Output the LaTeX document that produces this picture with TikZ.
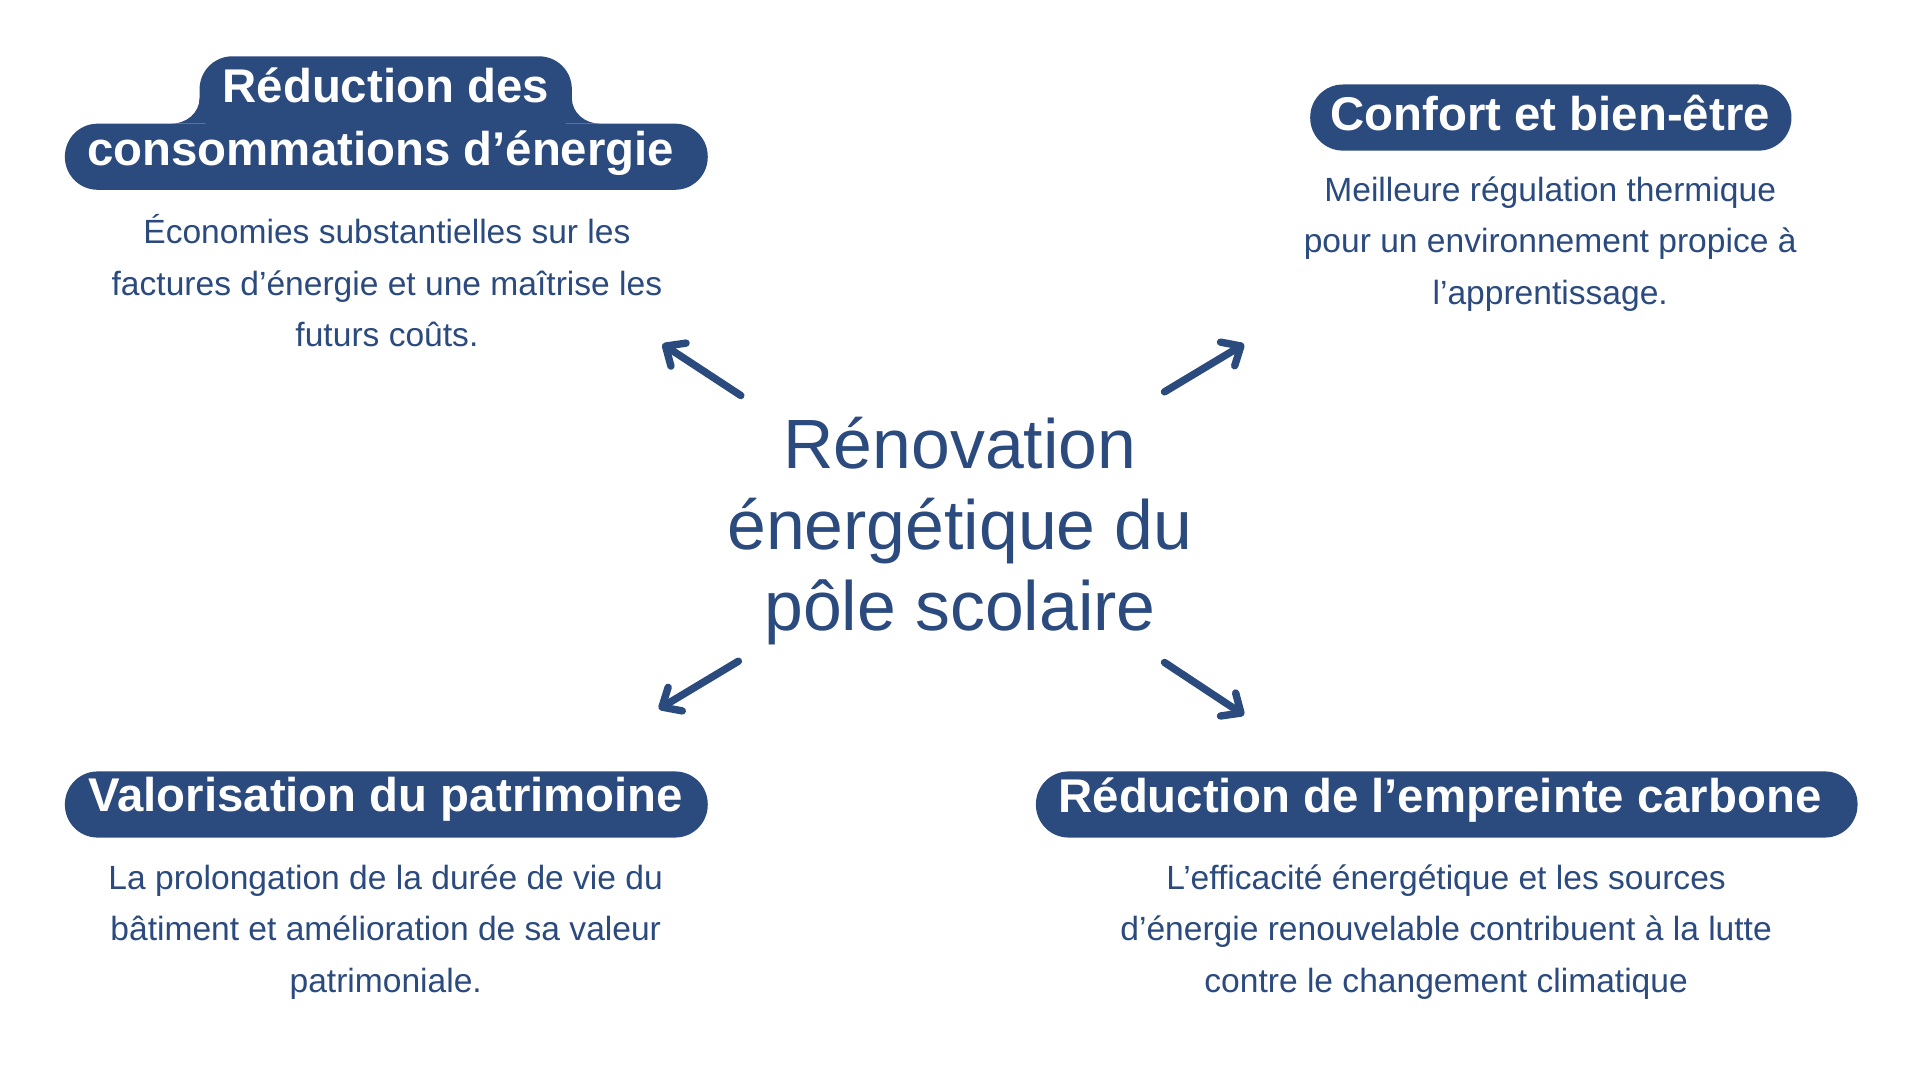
\documentclass[tikz,border=0pt]{standalone}
\usepackage{fontspec}
\setmainfont{Liberation Sans}
\usetikzlibrary{arrows.meta}
\definecolor{navy}{HTML}{2B4A7E}
\tikzset{>={Straight Barb[length=9pt,width=16pt,line cap=round,line join=round]}}
\tikzset{
  pill/.style={fill=navy,rounded corners=19pt},
  head/.style={text=white,font=\bfseries\fontsize{27.5}{33}\selectfont},
  body/.style={text=navy,align=center,font=\fontsize{19.5}{30}\selectfont},
  big/.style={text=navy,align=center,font=\fontsize{40.5}{47}\selectfont},
  link/.style={navy,line width=4.3pt,line cap=round,->}
}

\begin{document}
\begin{tikzpicture}[x=0.025cm,y=-0.025cm]
\useasboundingbox[fill=white] (0,0) rectangle (1568,882);

% title pills
\fill[pill] (163,46) rectangle (467,112);
\fill[pill] (53,101) rectangle (578,155);
\fill[navy] (140,101) to[out=0,in=-90] (163,80) -- (170,101) -- cycle;
\fill[navy] (490,101) to[out=180,in=-90] (467,80) -- (460,101) -- cycle;
\fill[pill] (1070,69) rectangle (1463,123);
\fill[pill] (53,630) rectangle (578,684);
\fill[pill] (846,630) rectangle (1517,684);

\node[head] (h1) at (315,70) {Réduction des};
\node[head] (h1b) at (311,125) {consommations d'énergie};
\node[head] (h2) at (1266,92) {Confort et bien-être};
\node[head] (h3) at (315,653) {Valorisation du patrimoine};
\node[head] (h4) at (1176,653) {Réduction de l'empreinte carbone};

% descriptions
\node[body,anchor=north] (d1) at (316,170) {Économies substantielles sur les\\factures d’énergie et une maîtrise les\\futurs coûts.};
\node[body,anchor=north] (d2) at (1266,139) {Meilleure régulation thermique\\pour un environnement propice à\\l’apprentissage.};
\node[body,anchor=north] (d3) at (315,701) {La prolongation de la durée de vie du\\bâtiment et amélioration de sa valeur\\patrimoniale.};
\node[body,anchor=north] (d4) at (1181,701) {L’efficacité énergétique et les sources\\d'énergie renouvelable contribuent à la lutte\\contre le changement climatique};

\node[big] (c) at (784,434) {Rénovation\\énergétique du\\pôle scolaire};

% arrows
\coordinate (a1) at (605,323); \coordinate (b1) at (541,281);
\coordinate (a2) at (951,320); \coordinate (b2) at (1016,281);
\coordinate (a3) at (603,540); \coordinate (b3) at (538,579);
\coordinate (a4) at (951,541); \coordinate (b4) at (1016,584);
\foreach \i in {1,...,4} \draw[link] (a\i) -- (b\i);
\end{tikzpicture}
\end{document}
